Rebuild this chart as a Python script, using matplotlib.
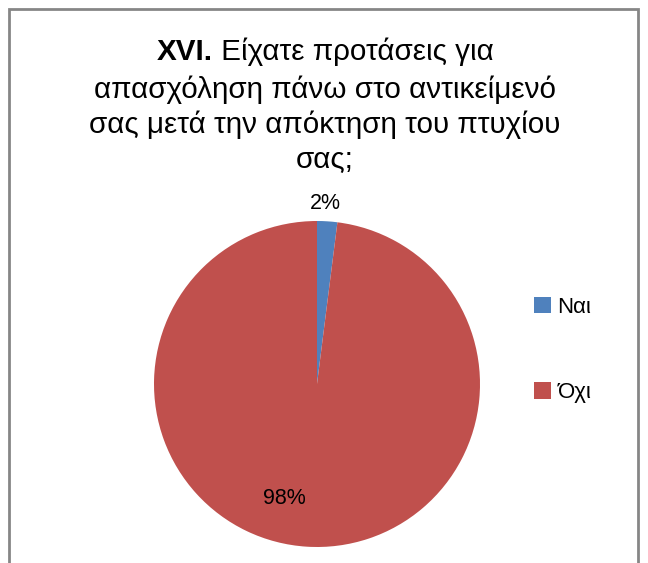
import matplotlib.pyplot as plt
from matplotlib.patches import Rectangle

# data
labels = ['Ναι', 'Όχι']
values = [2, 98]
colors = ['#4F81BD', '#C0504D']
pct_labels = ['2%', '98%']

plt.rcParams['font.family'] = ['Liberation Sans', 'DejaVu Sans']

fig = plt.figure(figsize=(6.48, 5.63), dpi=100)

# chart frame (open at the bottom, like the cropped screenshot)
fig.add_artist(Rectangle((9 / 648, -0.1), 629 / 648, 1 - 9 / 563 + 0.1,
                         transform=fig.transFigure, fill=False,
                         edgecolor='#868686', linewidth=2))

# title: bold roman numeral, then the question
tsize = 21.3
t_bold = fig.text(0, 1 - 52 / 563, 'XVI.', ha='left', va='center', fontsize=tsize, fontweight='bold')
t_rest = fig.text(0, 1 - 52 / 563, ' Είχατε προτάσεις για', ha='left', va='center', fontsize=tsize)
fig.canvas.draw()
r = fig.canvas.get_renderer()
wb = t_bold.get_window_extent(r).width
wr = t_rest.get_window_extent(r).width
x0 = 325 - (wb + wr) / 2
t_bold.set_x(x0 / 648)
t_rest.set_x((x0 + wb) / 648)

title_lines = ['απασχόληση πάνω στο αντικείμενό',
               'σας μετά την απόκτηση του πτυχίου',
               'σας;']
for i, line in enumerate(title_lines):
    fig.text(325 / 648, 1 - (90 + 35 * i) / 563, line, ha='center', va='center', fontsize=tsize)

ax = fig.add_axes([(317 - 163) / 648, 1 - (384 + 163) / 563, 326 / 648, 326 / 563])
wedges, _ = ax.pie(values, colors=colors, startangle=90, counterclock=False,
                   wedgeprops=dict(linewidth=0))
ax.set_xlim(-1, 1)
ax.set_ylim(-1, 1)
ax.set_aspect('equal')

# percentage labels
ax.text(0.05, 1.11, pct_labels[0], ha='center', va='center', fontsize=15.5)
ax.text(-0.2, -0.7, pct_labels[1], ha='center', va='center', fontsize=15.5)

leg = fig.legend(wedges, labels, loc='center left', bbox_to_anchor=(514 / 648, 1 - 350 / 563),
                 frameon=False, fontsize=16, handlelength=0.75, handleheight=0.75,
                 handletextpad=0.3, labelspacing=2.9)

fig.savefig('out.png', dpi=100)
